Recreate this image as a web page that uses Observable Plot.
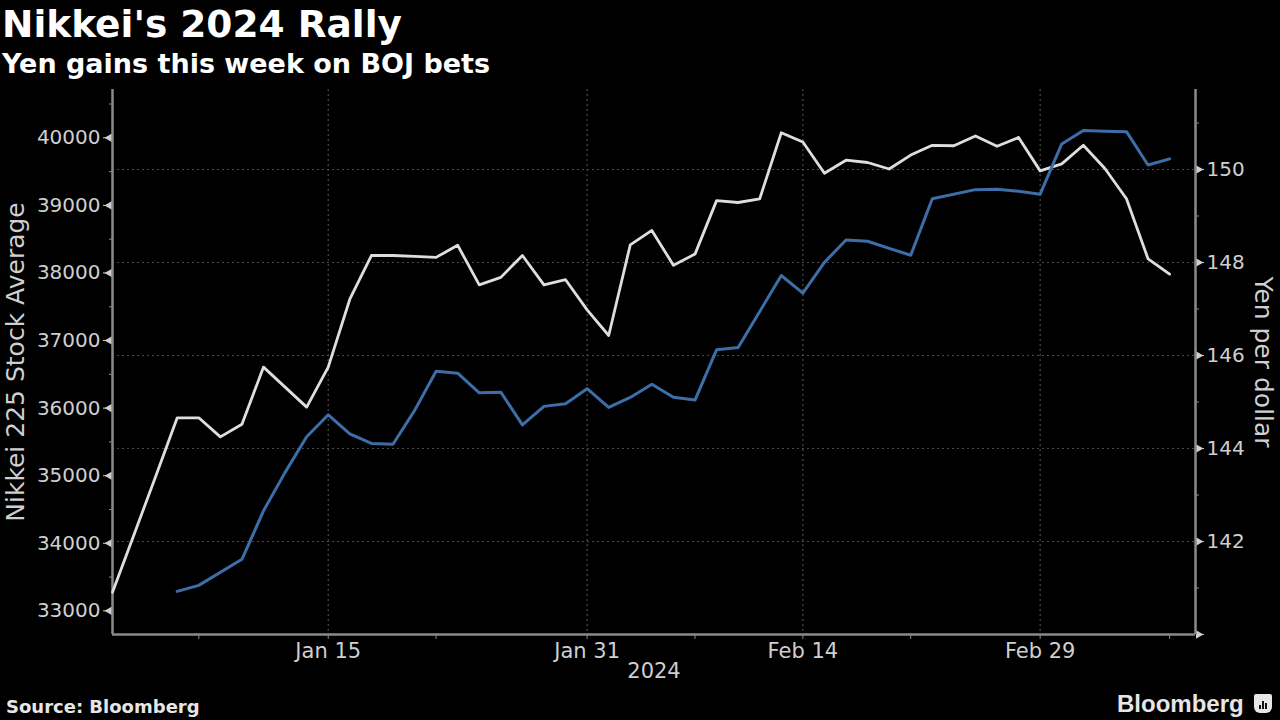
<!DOCTYPE html>
<html>
<head>
<meta charset="utf-8">
<script src="https://cdn.jsdelivr.net/npm/d3@7"></script>
<script src="https://cdn.jsdelivr.net/npm/@observablehq/plot@0.6"></script>
<style>
  html, body { margin: 0; padding: 0; background: #000; }
  body { width: 1280px; height: 720px; position: relative; overflow: hidden; font-family: "DejaVu Sans", sans-serif; }
  #title { position: absolute; left: 2px; top: 6px; font-size: 37.5px; line-height: 1; font-weight: bold; color: #fff; white-space: nowrap; }
  #subtitle { position: absolute; left: 2px; top: 50px; font-size: 27px; line-height: 1; font-weight: bold; color: #fff; white-space: nowrap; }
  #chart { position: absolute; left: 0; top: 80px; }
  #source { position: absolute; left: 6px; top: 698px; font-size: 18px; line-height: 1; font-weight: bold; color: #e6e6e6; white-space: nowrap; }
  #brand { position: absolute; left: 1117px; top: 692px; font-family: "Liberation Sans", Arial, sans-serif; font-size: 24px; line-height: 1; font-weight: bold; color: #e6e6e6; white-space: nowrap; }
  #icon { position: absolute; left: 1254px; top: 694px; width: 18px; height: 19px; background: #e6e6e6; border-radius: 2px 2px 6px 6px; }
  #icon span { position: absolute; bottom: 4px; width: 2px; background: #111; }
</style>
</head>
<body>
<div id="title">Nikkei's 2024 Rally</div>
<div id="subtitle">Yen gains this week on BOJ bets</div>
<div id="chart"></div>
<div id="source">Source: Bloomberg</div>
<div id="brand">Bloomberg</div>
<div id="icon"><span style="left:5px;height:4px"></span><span style="left:8px;height:8px"></span><span style="left:11px;height:6px"></span></div>
<script>
// ---- Data ----
// Yen per dollar (weekdays)
const yenDates = [
  "2024-01-01","2024-01-02","2024-01-03","2024-01-04","2024-01-05",
  "2024-01-08","2024-01-09","2024-01-10","2024-01-11","2024-01-12",
  "2024-01-15","2024-01-16","2024-01-17","2024-01-18","2024-01-19",
  "2024-01-22","2024-01-23","2024-01-24","2024-01-25","2024-01-26",
  "2024-01-29","2024-01-30","2024-01-31","2024-02-01","2024-02-02",
  "2024-02-05","2024-02-06","2024-02-07","2024-02-08","2024-02-09",
  "2024-02-12","2024-02-13","2024-02-14","2024-02-15","2024-02-16",
  "2024-02-19","2024-02-20","2024-02-21","2024-02-22","2024-02-23",
  "2024-02-26","2024-02-27","2024-02-28","2024-02-29","2024-03-01",
  "2024-03-04","2024-03-05","2024-03-06","2024-03-07","2024-03-08"
];
const yenValues = [
  140.91, 142.15, 143.40, 144.66, 144.66,
  144.25, 144.52, 145.75, 145.32, 144.89,
  145.75, 147.21, 148.15, 148.15, 148.13,
  148.11, 148.37, 147.52, 147.68, 148.15,
  147.52, 147.63, 146.98, 146.43, 148.38,
  148.69, 147.94, 148.18, 149.33, 149.29,
  149.37, 150.79, 150.59, 149.92, 150.20,
  150.15, 150.01, 150.31, 150.52, 150.51,
  150.72, 150.50, 150.69, 149.97, 150.12,
  150.52, 150.02, 149.37, 148.08, 147.75
];
// Nikkei 225 Stock Average (Tokyo trading days)
const nikkeiDates = [
  "2024-01-04","2024-01-05","2024-01-09","2024-01-10","2024-01-11",
  "2024-01-12","2024-01-15","2024-01-16","2024-01-17","2024-01-18",
  "2024-01-19","2024-01-22","2024-01-23","2024-01-24","2024-01-25",
  "2024-01-26","2024-01-29","2024-01-30","2024-01-31","2024-02-01",
  "2024-02-02","2024-02-05","2024-02-06","2024-02-07","2024-02-08",
  "2024-02-09","2024-02-13","2024-02-14","2024-02-15","2024-02-16",
  "2024-02-19","2024-02-20","2024-02-21","2024-02-22","2024-02-26",
  "2024-02-27","2024-02-28","2024-02-29","2024-03-01","2024-03-04",
  "2024-03-05","2024-03-06","2024-03-07","2024-03-08"
];
const nikkeiValues = [
  33288, 33377, 33763, 34480, 35049,
  35577, 35901, 35619, 35477, 35466,
  35963, 36546, 36517, 36226, 36236,
  35751, 36026, 36066, 36287, 36011,
  36158, 36354, 36160, 36119, 36863,
  36897, 37963, 37703, 38157, 38487,
  38470, 38364, 38262, 39098, 39233,
  39239, 39208, 39166, 39910, 40109,
  40097, 40091, 39598, 39688
];
// Axis ticks
const xTickDates = ["2024-01-15","2024-01-31","2024-02-14","2024-02-29"];
const xTickLabels = ["Jan 15","Jan 31","Feb 14","Feb 29"];
const xMinorDates = ["2024-01-05","2024-01-22","2024-02-07","2024-02-21","2024-03-08"];
const xAxisLabel = "2024";
const nikkeiTicks = [33000, 34000, 35000, 36000, 37000, 38000, 39000, 40000];
const nikkeiMinor = [33500, 34500, 35500, 36500, 37500, 38500, 39500, 40500];
const yenTicks = [142, 144, 146, 148, 150];
const yenTicksAll = [140, 142, 144, 146, 148, 150];
const yenMinor = [141, 143, 145, 147, 149, 151];
const leftTitle = "Nikkei 225 Stock Average";
const rightTitle = "Yen per dollar";

// ---- Scales ----
const nDomain = [32650, 40715];
const yDomain = [140, 151.72];
const toN = v => nDomain[0] + (v - yDomain[0]) * (nDomain[1] - nDomain[0]) / (yDomain[1] - yDomain[0]);
const fromN = n => yDomain[0] + (n - nDomain[0]) * (yDomain[1] - yDomain[0]) / (nDomain[1] - nDomain[0]);

// trading-day (weekday) index from 2024-01-01 (a Monday)
const base = Date.UTC(2024, 0, 1);
const wIdx = s => {
  const [y, m, d] = s.split("-").map(Number);
  const days = Math.round((Date.UTC(y, m - 1, d) - base) / 86400000);
  return Math.floor(days / 7) * 5 + (days % 7);
};

const yen = yenDates.map((d, i) => ({i: wIdx(d), v: toN(yenValues[i])}));
const nik = nikkeiDates.map((d, i) => ({i: wIdx(d), v: nikkeiValues[i]}));
const xTicks = xTickDates.map(wIdx);
const xLabelOf = new Map(xTicks.map((t, k) => [t, xTickLabels[k]]));
const xMinor = xMinorDates.map(wIdx);

const textColor = "#cfcfcf";
const axisColor = "#8a8a8a";
const gridColor = "#4a4a4a";

const chart = Plot.plot({
  width: 1280,
  height: 620,
  marginTop: 9,
  marginLeft: 112,
  marginRight: 85,
  marginBottom: 66,
  x: {type: "linear", domain: [0, 50.2], axis: null},
  y: {domain: nDomain, axis: null},
  style: {background: "#000", color: textColor, fontFamily: "DejaVu Sans, sans-serif", fontSize: "20px"},
  marks: [
    // grid
    Plot.ruleX(xTicks, {stroke: gridColor, strokeDasharray: "2,3", strokeWidth: 1.2}),
    Plot.ruleY(yenTicks.map(toN), {stroke: gridColor, strokeDasharray: "2,3", strokeWidth: 1.2}),
    // axes
    Plot.axisY(nikkeiTicks, {anchor: "left", tickSize: 9, tickPadding: 3, tickFormat: d3.format("d"), fontSize: 20, label: null, stroke: textColor}),
    Plot.axisY(nikkeiMinor, {anchor: "left", tickSize: 3, tickFormat: () => "", label: null, stroke: axisColor}),
    Plot.dot(nikkeiTicks, {y: d => d, frameAnchor: "left", symbol: "triangle", r: 3.2, rotate: -90, dx: -3, fill: textColor}),
    Plot.axisY(yenTicksAll.map(toN), {anchor: "right", tickSize: 8, tickPadding: 3, tickFormat: n => { const v = Math.round(fromN(n)); return yenTicks.includes(v) ? String(v) : ""; }, fontSize: 20, label: null, stroke: textColor}),
    Plot.axisY(yenMinor.map(toN), {anchor: "right", tickSize: 3, tickFormat: () => "", label: null, stroke: axisColor}),
    Plot.dot(yenTicksAll.map(toN), {y: d => d, frameAnchor: "right", symbol: "triangle", r: 3.2, rotate: 90, dx: 3, fill: textColor}),
    Plot.axisX(xTicks, {anchor: "bottom", tickSize: 5, tickPadding: 4, tickFormat: t => xLabelOf.get(t), fontSize: 21, label: null, stroke: axisColor}),
    Plot.axisX(xMinor, {anchor: "bottom", tickSize: 5, tickFormat: () => "", label: null, stroke: axisColor}),
    Plot.ruleX([0], {stroke: axisColor, strokeWidth: 2.5}),
    Plot.ruleX([50.2], {stroke: axisColor, strokeWidth: 2.5}),
    Plot.ruleY([nDomain[0]], {stroke: axisColor, strokeWidth: 2.5}),
    // titles
    Plot.text([xAxisLabel], {text: d => d, frameAnchor: "bottom", dy: 43, fontSize: 21, fill: textColor}),
    Plot.text([leftTitle], {text: d => d, frameAnchor: "left", textAnchor: "middle", dx: -97, rotate: -90, fontSize: 25, fill: textColor}),
    Plot.text([rightTitle], {text: d => d, frameAnchor: "right", textAnchor: "middle", dx: 67, rotate: 90, fontSize: 25, fill: textColor}),
    // series
    Plot.line(yen, {x: "i", y: "v", stroke: "#dedede", strokeWidth: 2.8}),
    Plot.line(nik, {x: "i", y: "v", stroke: "#3d6ea8", strokeWidth: 3})
  ]
});
document.getElementById("chart").appendChild(chart);
</script>
</body>
</html>
